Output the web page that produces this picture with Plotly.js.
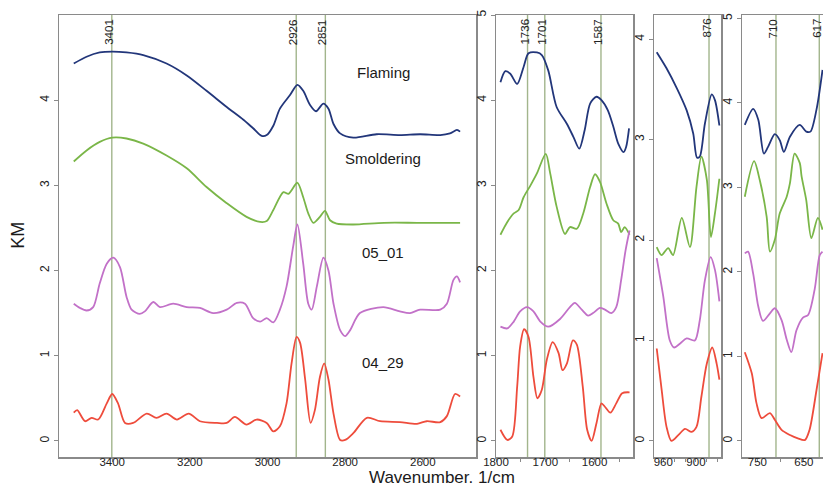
<!DOCTYPE html>
<html>
<head>
<meta charset="utf-8">
<script src="https://cdn.plot.ly/plotly-3.0.1.min.js"></script>
<style>html,body{margin:0;padding:0;background:#fff;}#chart{width:823px;height:487px;}</style>
</head>
<body>
<div id="chart"></div>
<script>
// ---------- Panel 1 (3500-2500 cm-1) ----------
const flaming1_x = [3499,3466,3432,3400,3363,3320,3260,3208,3157,3105,3062,3037,3015,3002,2985,2968,2942,2923,2908,2890,2875,2856,2843,2830,2813,2779,2719,2659,2607,2555,2530,2512,2504];
const flaming1_y = [4.43,4.51,4.56,4.57,4.56,4.53,4.43,4.29,4.11,3.92,3.77,3.67,3.58,3.59,3.70,3.90,4.06,4.18,4.11,3.94,3.87,3.96,3.90,3.72,3.61,3.56,3.60,3.59,3.60,3.59,3.61,3.65,3.63];
const smolder1_x = [3499,3466,3432,3400,3363,3320,3260,3208,3157,3105,3054,3019,3002,2985,2959,2946,2923,2908,2895,2882,2865,2852,2839,2822,2779,2700,2615,2550,2504];
const smolder1_y = [3.28,3.41,3.51,3.56,3.55,3.49,3.35,3.20,2.98,2.79,2.63,2.57,2.58,2.71,2.92,2.90,3.03,2.86,2.67,2.56,2.63,2.70,2.59,2.55,2.54,2.56,2.56,2.56,2.56];
const s0501_1_x = [3499,3483,3466,3449,3432,3414,3397,3380,3363,3350,3329,3316,3294,3277,3243,3208,3174,3140,3105,3079,3058,3037,3019,3002,2985,2968,2951,2934,2923,2908,2895,2886,2873,2856,2843,2830,2813,2800,2787,2762,2702,2659,2633,2607,2555,2538,2521,2512,2504];
const s0501_1_y = [1.61,1.56,1.53,1.57,1.85,2.08,2.15,2.04,1.69,1.54,1.49,1.52,1.63,1.57,1.61,1.57,1.56,1.50,1.54,1.62,1.61,1.44,1.40,1.44,1.39,1.54,1.81,2.28,2.54,2.08,1.61,1.54,1.81,2.15,2.00,1.61,1.30,1.23,1.30,1.50,1.57,1.52,1.50,1.54,1.54,1.61,1.89,1.93,1.86];
const s0429_1_x = [3499,3490,3470,3453,3436,3414,3400,3385,3367,3346,3311,3286,3260,3233,3203,3174,3130,3105,3084,3054,3028,3002,2985,2968,2951,2938,2925,2916,2903,2889,2878,2865,2854,2843,2830,2813,2800,2779,2744,2710,2659,2615,2590,2555,2538,2517,2504];
const s0429_1_y = [0.33,0.36,0.23,0.27,0.25,0.44,0.55,0.44,0.21,0.21,0.32,0.27,0.32,0.25,0.32,0.23,0.21,0.21,0.28,0.19,0.25,0.21,0.11,0.17,0.44,0.91,1.22,1.15,0.72,0.21,0.36,0.75,0.91,0.72,0.32,0.01,0.01,0.09,0.27,0.23,0.22,0.20,0.23,0.22,0.29,0.55,0.52];

// ---------- Panel 2 (1800-1530 cm-1) ----------
const flaming2_x = [1791,1781,1771,1757,1744,1734,1717,1707,1694,1677,1656,1643,1631,1620,1609,1596,1586,1573,1562,1552,1541,1536,1530];
const flaming2_y = [4.21,4.34,4.31,4.19,4.39,4.55,4.56,4.53,4.35,3.92,3.72,3.57,3.43,3.65,3.96,4.04,4.00,3.88,3.69,3.49,3.39,3.45,3.67];
const smolder2_x = [1791,1777,1764,1754,1744,1730,1717,1699,1690,1677,1660,1650,1636,1623,1609,1599,1589,1576,1562,1552,1546,1539,1529];
const smolder2_y = [2.42,2.57,2.67,2.71,2.86,3.00,3.14,3.37,3.14,2.75,2.43,2.51,2.49,2.67,2.98,3.13,3.04,2.79,2.59,2.55,2.45,2.51,2.42];
const s0501_2_x = [1791,1777,1764,1751,1737,1724,1710,1694,1670,1650,1640,1626,1613,1603,1589,1579,1566,1556,1546,1537,1529];
const s0501_2_y = [1.34,1.32,1.40,1.52,1.57,1.52,1.40,1.34,1.43,1.57,1.62,1.54,1.47,1.50,1.56,1.54,1.50,1.57,1.89,2.24,2.47];
const s0429_2_x = [1791,1777,1767,1757,1751,1743,1734,1724,1716,1707,1697,1685,1673,1665,1656,1644,1636,1624,1615,1606,1596,1586,1579,1568,1556,1544,1529];
const s0429_2_y = [0.13,0.01,0.05,0.64,1.11,1.31,1.22,0.75,0.50,0.60,0.95,1.16,1.03,0.83,0.91,1.18,1.13,0.64,0.13,0.00,0.21,0.44,0.40,0.33,0.44,0.56,0.57];

// ---------- Panel 3 (970-855 cm-1) ----------
const flaming3_x = [972,954,935,917,905,898,893,883.5,871,865,857];
const flaming3_y = [3.87,3.71,3.51,3.29,3.06,2.82,2.83,3.16,3.45,3.39,3.14];
const smolder3_x = [972,963,951,942,926,911,899,890,880,872.5,865,857];
const smolder3_y = [1.93,1.85,1.92,1.85,2.22,1.93,2.53,2.83,2.60,2.03,2.27,2.61];
const s0501_3_x = [972,960,948,940,929,917,902,893,883.5,873,865,857];
const s0501_3_y = [1.82,1.44,1.00,0.93,0.97,1.02,1.00,1.20,1.60,1.83,1.70,1.39];
const s0429_3_x = [972,963,954,945,932,920,908,899,890,880,870,862,857];
const s0429_3_y = [0.92,0.51,0.14,0.00,0.06,0.12,0.09,0.14,0.44,0.77,0.93,0.77,0.61];

// ---------- Panel 4 (780-610 cm-1) ----------
const flaming4_x = [777,759,748,736,727,712.5,702,693,680,659,645,636,623,610];
const flaming4_y = [3.74,3.93,3.80,3.40,3.48,3.63,3.56,3.42,3.60,3.74,3.66,3.66,3.92,4.39];
const smolder4_x = [777,757,745,730,723,712.5,702,687,680,670,659,655,645,634,620,610];
const smolder4_y = [2.89,3.31,3.09,2.65,2.24,2.38,2.69,2.89,3.05,3.40,3.29,3.13,2.85,2.40,2.64,2.50];
const s0501_4_x = [777,770,759,748,738,723,712.5,698,687,677,666,652,641,627,616,610];
const s0501_4_y = [2.22,2.24,1.98,1.59,1.42,1.51,1.57,1.43,1.20,1.05,1.31,1.46,1.49,1.79,2.20,2.24];
const s0429_4_x = [777,762,752,741,723,712.5,698,680,663,648,638,623,610];
const s0429_4_y = [1.05,0.80,0.45,0.27,0.33,0.25,0.13,0.07,0.03,0.01,0.13,0.60,1.04];

// ---------- Marked peaks ----------
const peaks1 = [3401, 2926, 2851];
const peaks2 = [1736, 1701, 1587];
const peaks3 = [876];
const peaks4 = [710, 617];

// ---------- Series labels ----------
const seriesNames = ["Flaming", "Smoldering", "05_01", "04_29"];
const labelX = [2702, 2702, 2702, 2702];
const labelY = [4.32, 3.31, 2.21, 0.92];

// ---------- Tick labels ----------
const xt1 = [3400, 3200, 3000, 2800, 2600];
const xt2 = [1800, 1750, 1700, 1650, 1600, 1550];
const xt2txt = ["1800", "", "1700", "", "1600", ""];
const xt3 = [960, 940, 920, 900, 880, 860];
const xt3txt = ["960", "", "", "900", "", ""];
const xt4 = [750, 700, 650];
const xt4txt = ["750", "", "650"];
const yt12 = [0, 1, 2, 3, 4, 5];
const yt3 = [0, 1, 2, 3, 4];
const yt4 = [0, 1, 2, 3, 4, 5];

const colors = ["#22367a", "#7ab648", "#c271c8", "#ee4c3c"];
const peakColor = "#a2b58c";
const boxColor = "#8a8a8a";
const FONT = "Liberation Sans, Arial, Helvetica, sans-serif";

const panels = [
  {xs: [flaming1_x, smolder1_x, s0501_1_x, s0429_1_x], ys: [flaming1_y, smolder1_y, s0501_1_y, s0429_1_y], peaks: peaks1},
  {xs: [flaming2_x, smolder2_x, s0501_2_x, s0429_2_x], ys: [flaming2_y, smolder2_y, s0501_2_y, s0429_2_y], peaks: peaks2},
  {xs: [flaming3_x, smolder3_x, s0501_3_x, s0429_3_x], ys: [flaming3_y, smolder3_y, s0501_3_y, s0429_3_y], peaks: peaks3},
  {xs: [flaming4_x, smolder4_x, s0501_4_x, s0429_4_x], ys: [flaming4_y, smolder4_y, s0501_4_y, s0429_4_y], peaks: peaks4}
];

const traces = [];
const shapes = [];
const annotations = [];
panels.forEach((p, i) => {
  const xa = i === 0 ? "x" : "x" + (i + 1);
  const ya = i === 0 ? "y" : "y" + (i + 1);
  p.xs.forEach((xs, k) => {
    traces.push({
      x: xs, y: p.ys[k], xaxis: xa, yaxis: ya, type: "scatter", mode: "lines",
      line: {color: colors[k], width: 1.8, shape: "spline", smoothing: 0.8},
      name: seriesNames[k], showlegend: false, hoverinfo: "skip"
    });
  });
  p.peaks.forEach(pk => {
    shapes.push({type: "line", xref: xa, yref: ya + " domain", x0: pk, x1: pk, y0: 0, y1: 1,
      line: {color: peakColor, width: 1.4}, layer: "below"});
    annotations.push({x: pk, xref: xa, y: 1, yref: "paper", yanchor: "top", xanchor: "center",
      xshift: -3, yshift: -2, textangle: -90, text: String(pk), showarrow: false,
      font: {family: FONT, size: 11.5, color: "#222"}});
  });
});

seriesNames.forEach((n, k) => {
  annotations.push({x: labelX[k], y: labelY[k], xref: "x", yref: "y", text: n, showarrow: false,
    xanchor: "center", yanchor: "middle",
    font: {family: FONT, size: 15, color: "#1a1a1a"}});
});

annotations.push({x: 0.501, y: -0.0464, xref: "paper", yref: "paper", text: "Wavenumber. 1/cm",
  showarrow: false, xanchor: "center", yanchor: "middle", borderpad: 0, borderwidth: 0,
  font: {family: FONT, size: 17, color: "#1a1a1a"}});
annotations.push({x: -0.054, y: 0.502, xref: "paper", yref: "paper", text: "KM", textangle: -90,
  showarrow: false, xanchor: "center", yanchor: "middle", font: {family: FONT, size: 18, color: "#1a1a1a"}});

const axCommon = {showline: true, mirror: true, linecolor: boxColor, linewidth: 1.5, showgrid: false,
  zeroline: false, ticks: "outside", ticklen: 4, tickcolor: boxColor, tickwidth: 1,
  tickfont: {family: FONT, size: 12, color: "#222"}, fixedrange: true};
const xCommon = Object.assign({}, axCommon, {ticklen: 3, ticklabelstandoff: -9,
  tickfont: {family: FONT, size: 11.5, color: "#222"}});

const W = 764;
function dom(a, b) { return [(a - 59) / W, (b - 59) / W]; }

const layout = {
  width: 823, height: 487,
  margin: {l: 59, r: 0, t: 15, b: 30},
  paper_bgcolor: "#fff", plot_bgcolor: "#fff",
  showlegend: false,
  xaxis: Object.assign({}, xCommon, {domain: dom(59, 476), range: [3537, 2463], tickvals: xt1, anchor: "y"}),
  xaxis2: Object.assign({}, xCommon, {domain: dom(496, 633), range: [1800, 1522], tickvals: xt2, ticktext: xt2txt, anchor: "y2"}),
  xaxis3: Object.assign({}, xCommon, {domain: dom(654, 721), range: [977, 854], tickvals: xt3, ticktext: xt3txt, anchor: "y3"}),
  xaxis4: Object.assign({}, xCommon, {domain: dom(742, 823), range: [783, 609], tickvals: xt4, ticktext: xt4txt, anchor: "y4"}),
  yaxis: Object.assign({}, axCommon, {range: [-0.19, 5.0], tickvals: yt12.slice(0, 5), tickangle: -90, anchor: "x"}),
  yaxis2: Object.assign({}, axCommon, {range: [-0.19, 5.0], tickvals: yt12, tickangle: -90, anchor: "x2"}),
  yaxis3: Object.assign({}, axCommon, {range: [-0.16, 4.24], tickvals: yt3, tickangle: -90, anchor: "x3"}),
  yaxis4: Object.assign({}, axCommon, {range: [-0.19, 5.04], tickvals: yt4, tickangle: -90, anchor: "x4"}),
  shapes: shapes,
  annotations: annotations
};

Plotly.newPlot("chart", traces, layout, {displayModeBar: false, staticPlot: true});
</script>
</body>
</html>
